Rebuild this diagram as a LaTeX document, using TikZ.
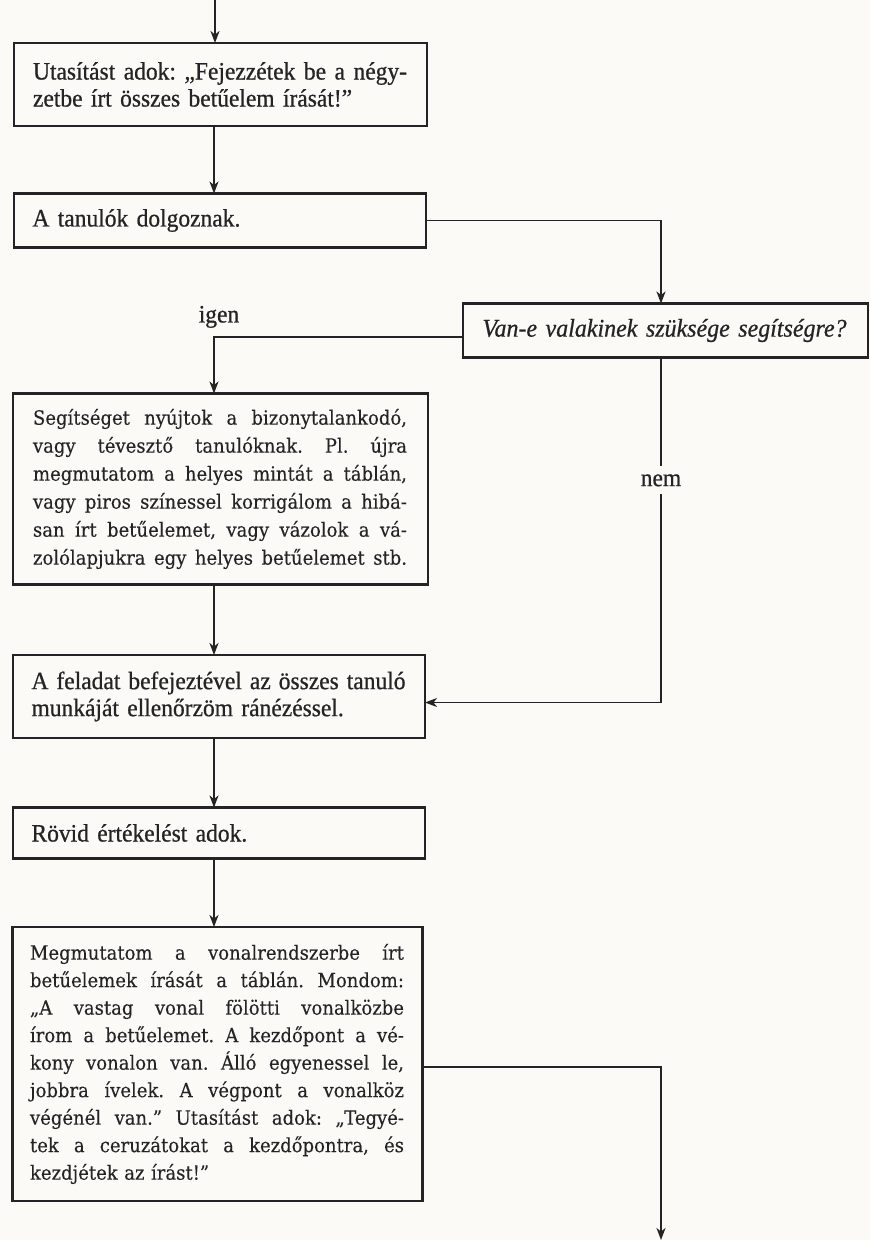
\documentclass[tikz,border=0pt]{standalone}
\usepackage{fontspec}
\setmainfont[FakeStretch=0.94,FakeBold=0.7]{Liberation Serif}
\newfontfamily\bookfont[FakeStretch=0.92,FakeBold=0.2]{DejaVu Serif}
\usetikzlibrary{arrows.meta,calc}

\definecolor{ink}{RGB}{36,36,36}
\definecolor{paper}{RGB}{251,250,246}

% one justified line: every word space stretches equally to fill the measure
\newcommand\jline[1]{\leavevmode\hbox to 374pt{\frenchspacing
  \spaceskip=0.25em plus 1fil minus 0.1em\relax #1}}

\begin{document}
\begin{tikzpicture}[x=1pt,y=-1pt,
  box/.style={draw=ink, line width=2.1pt, rectangle, inner sep=0pt,
    outer sep=0pt, text=ink, align=left},
  flow/.style={draw=ink, line width=1.6pt,
    -{Stealth[length=12pt,width=9pt,inset=3.5pt]}},
  cond/.style={font=\fontsize{25}{27}\selectfont},
  condit/.style={font=\itshape\fontsize{25.5}{27}\selectfont},
  book/.style={font=\bookfont\fontsize{19.6}{28}\selectfont},
  booktight/.style={font=\bookfont\fontsize{19.6}{27.5}\selectfont},
  tag/.style={text=ink, font=\fontsize{25}{27}\selectfont},
]
\fill[paper] (0,0) rectangle (870,1240);
\useasboundingbox (0,0) rectangle (870,1240);

% guide coordinates for the vertical runs
\coordinate (entry) at (215,0);
\coordinate (spine) at (214,0);
\coordinate (rcol) at (661,0);
\coordinate (exit) at (661,1240);

% boxes
\node[box, cond, minimum width=413pt, minimum height=83pt, text width=375pt]
  (b1) at (220.5,84.5)
  {\jline{Utasítást adok: „Fejezzétek be a négy-}\\
   zetbe írt összes betűelem írását!”};

\node[box, cond, minimum width=412pt, minimum height=54pt, text width=375pt]
  (b2) at (220,220.5) {A tanulók dolgoznak.};

\node[box, condit, minimum width=405pt, minimum height=54pt, text width=366pt]
  (b3) at (665.5,330.5) {Van-e valakinek szüksége segítségre?};

\node[box, book, minimum width=415pt, minimum height=191pt, text width=375pt]
  (b4) at (220.5,489)
  {\jline{Segítséget nyújtok a bizonytalankodó,}\\
   \jline{vagy tévesztő tanulóknak. Pl. újra}\\
   \jline{megmutatom a helyes mintát a táblán,}\\
   \jline{vagy piros színessel korrigálom a hibá-}\\
   \jline{san írt betűelemet, vagy vázolok a vá-}\\
   \jline{zolólapjukra egy helyes betűelemet stb.}};

\node[box, cond, minimum width=412pt, minimum height=83pt, text width=375pt]
  (b5) at (219,696.5)
  {\jline{A feladat befejeztével az összes tanuló}\\
   munkáját ellenőrzöm ránézéssel.};

\node[box, cond, minimum width=412pt, minimum height=51pt, text width=375pt]
  (b6) at (219,833) {Rövid értékelést adok.};

\node[box, booktight, minimum width=410pt, minimum height=274pt, text width=375pt]
  (b7) at (217.5,1064)
  {\jline{Megmutatom a vonalrendszerbe írt}\\
   \jline{betűelemek írását a táblán. Mondom:}\\
   \jline{„A vastag vonal fölötti vonalközbe}\\
   \jline{írom a betűelemet. A kezdőpont a vé-}\\
   \jline{kony vonalon van. Álló egyenessel le,}\\
   \jline{jobbra ívelek. A végpont a vonalköz}\\
   \jline{végénél van.” Utasítást adok: „Tegyé-}\\
   \jline{tek a ceruzátokat a kezdőpontra, és}\\
   kezdjétek az írást!”};

% connectors
\draw[flow] (entry) -- (entry |- b1.north);
\draw[flow] (b1.south -| spine) -- (b2.north -| spine);
\draw[flow] (b2.east) -| (b3.north -| rcol);
\draw[flow] ([yshift=-6.5pt]b3.west) -| node[tag, pos=0.5, above=5pt, xshift=5pt] {igen}
  (b4.north -| spine);
\draw[flow] (b3.south -| rcol) |- node[tag, pos=0.178, fill=paper, inner xsep=2pt, inner ysep=8pt] {nem}
  ([yshift=-6pt]b5.east);
\draw[flow] (b4.south -| spine) -- (b5.north -| spine);
\draw[flow] (b5.south -| spine) -- (b6.north -| spine);
\draw[flow] (b6.south -| spine) -- (b7.north -| spine);
\draw[flow] ([yshift=-3pt]b7.east) -| (exit);
\end{tikzpicture}
\end{document}
